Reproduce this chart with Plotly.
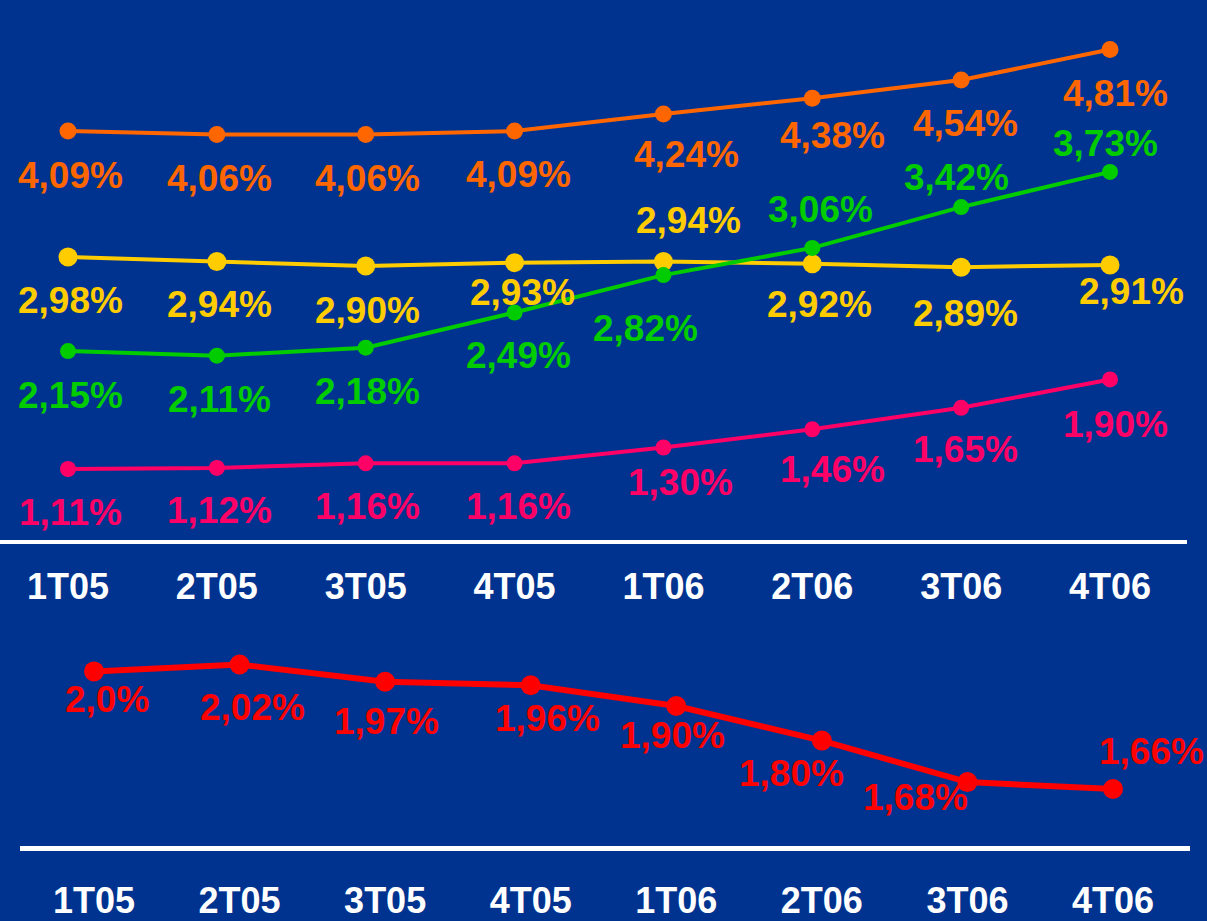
import plotly.graph_objects as go

# Quarters
quarters = ["1T05", "2T05", "3T05", "4T05", "1T06", "2T06", "3T06", "4T06"]

# Upper panel series (%)
orange_vals = [4.09, 4.06, 4.06, 4.09, 4.24, 4.38, 4.54, 4.81]
yellow_vals = [2.98, 2.94, 2.90, 2.93, 2.94, 2.92, 2.89, 2.91]
green_vals = [2.15, 2.11, 2.18, 2.49, 2.82, 3.06, 3.42, 3.73]
pink_vals = [1.11, 1.12, 1.16, 1.16, 1.30, 1.46, 1.65, 1.90]

# Lower panel series (%), as printed
red_printed = ["2,0", "2,02", "1,97", "1,96", "1,90", "1,80", "1,68", "1,66"]
red_vals = [float(s.replace(",", ".")) for s in red_printed]


def fmt(v):
    return f"{v:.2f}".replace(".", ",") + "%"


BG = "#00338F"
FONT = "Liberation Sans, Arial, sans-serif"
LABEL_SIZE = 37
TICK_SIZE = 36

W, H = 1207, 921

fig = go.Figure()

# label offsets in pixels (dx right, dy down from the marker)
upper = [
    ("#FF6600", orange_vals, 17,
     [(2, 45), (3, 45), (2, 45), (4, 44), (23, 41), (20, 38), (4, 44), (5, 45)]),
    ("#FFCC00", yellow_vals, 19,
     [(2, 45), (3, 44), (2, 45), (8, 31), (25, -40), (7, 42), (4, 47), (21, 28)]),
    ("#00CC00", green_vals, 16,
     [(2, 45), (3, 45), (2, 45), (4, 44), (-18, 54), (8, -37), (-5, -29), (-5, -27)]),
    ("#FF0066", pink_vals, 16,
     [(2, 44), (3, 44), (2, 44), (4, 44), (17, 36), (20, 41), (4, 43), (5, 46)]),
]

annotations = []
for color, vals, msize, offs in upper:
    fig.add_trace(go.Scatter(
        x=quarters, y=vals, mode="lines+markers",
        line=dict(color=color, width=4),
        marker=dict(color=color, size=msize),
        cliponaxis=False, xaxis="x", yaxis="y", showlegend=False,
        hoverinfo="skip",
    ))
    for q, v, (dx, dy) in zip(quarters, vals, offs):
        annotations.append(dict(
            x=q, y=v, xref="x", yref="y", text=fmt(v), showarrow=False,
            xshift=dx, yshift=-dy + 1, xanchor="center", yanchor="middle",
            font=dict(family=FONT, size=LABEL_SIZE, color=color, weight="bold"),
        ))

red_offs = [(13, 29), (13, 44), (1, 41), (17, 34), (-4, 30), (-30, 34), (-52, 16), (39, -37)]
fig.add_trace(go.Scatter(
    x=quarters, y=red_vals, mode="lines+markers",
    line=dict(color="#FF0000", width=6),
    marker=dict(color="#FF0000", size=20),
    cliponaxis=False, xaxis="x2", yaxis="y2", showlegend=False,
    hoverinfo="skip",
))
for q, v, s, (dx, dy) in zip(quarters, red_vals, red_printed, red_offs):
    annotations.append(dict(
        x=q, y=v, xref="x2", yref="y2", text=s + "%", showarrow=False,
        xshift=dx, yshift=-dy + 1, xanchor="center", yanchor="middle",
        font=dict(family=FONT, size=LABEL_SIZE, color="#FF0000", weight="bold"),
    ))


def px_dom(a, b, total):
    return [a / total, b / total]


# pixel geometry of both panels
top_x0, top_x1, top_first, top_step = 0, 1187, 68, 148.86
bot_x0, bot_x1, bot_first, bot_step = 20, 1190, 94, 145.57

top_y_base, top_y_top = 540, 0
top_a, top_b = 594.9, 113.4  # pixel = a - b * value
bot_y_base, bot_y_top = 846, 620
bot_a, bot_b = 1363.4, 346.0

tick_font = dict(family=FONT, size=TICK_SIZE, color="white", weight="bold")

fig.update_layout(
    width=W, height=H,
    margin=dict(l=0, r=0, t=0, b=0, autoexpand=False),
    paper_bgcolor=BG, plot_bgcolor=BG,
    showlegend=False,
    annotations=annotations,
    xaxis=dict(
        domain=px_dom(top_x0, top_x1, W), anchor="y", automargin=False,
        type="category",
        range=[(top_x0 - top_first) / top_step, (top_x1 - top_first) / top_step],
        showline=True, linecolor="white", linewidth=4,
        showgrid=False, zeroline=False, ticks="",
        tickfont=tick_font, ticklabelstandoff=12,
    ),
    yaxis=dict(
        domain=[1 - top_y_base / H, 1 - top_y_top / H], anchor="x",
        automargin=False,
        range=[(top_a - top_y_base) / top_b, (top_a - top_y_top) / top_b],
        visible=False,
    ),
    xaxis2=dict(
        domain=px_dom(bot_x0, bot_x1, W), anchor="y2", automargin=False,
        type="category",
        range=[(bot_x0 - bot_first) / bot_step, (bot_x1 - bot_first) / bot_step],
        showline=True, linecolor="white", linewidth=5,
        showgrid=False, zeroline=False, ticks="",
        tickfont=tick_font, ticklabelstandoff=19,
    ),
    yaxis2=dict(
        domain=[1 - bot_y_base / H, 1 - bot_y_top / H], anchor="x2",
        automargin=False,
        range=[(bot_a - bot_y_base) / bot_b, (bot_a - bot_y_top) / bot_b],
        visible=False,
    ),
)

fig.write_html("out.html", config={"displayModeBar": False})
